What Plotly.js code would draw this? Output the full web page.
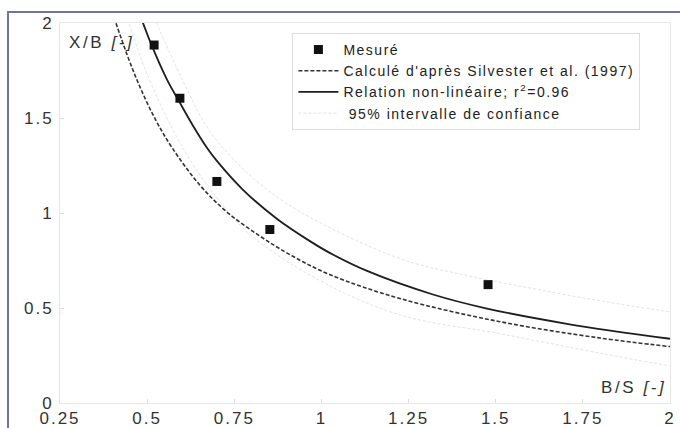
<!DOCTYPE html>
<html>
<head>
<meta charset="utf-8">
<script src="https://cdn.plot.ly/plotly-3.0.1.min.js"></script>
<style>
  html, body { margin: 0; padding: 0; background: #fff; overflow: hidden; }
  #chart { width: 680px; height: 428px; position: absolute; left: 0; top: 0; }
  #frame { position: absolute; left: 7px; top: 11px; width: 700px; height: 440px;
           border: 2px solid #6f75a8; pointer-events: none; z-index: 10; }
  .xtick text, .ytick text { letter-spacing: 2px; }
  .legendtext { letter-spacing: 1.5px; }
  .annotation-text { letter-spacing: 2.6px; }
</style>
</head>
<body>
<div id="chart"></div>
<div id="frame"></div>
<script>
// Mesuré
const bsMesure = [0.520, 0.594, 0.700, 0.852, 1.478];
const xbMesure = [1.884, 1.604, 1.166, 0.913, 0.623];

// Calculé d'après Silvester et al. (1997)
const bsSilvester = [0.405, 0.442, 0.479, 0.523, 0.571, 0.652, 0.729, 0.824, 0.918, 1.025, 1.225, 1.512, 1.799, 2.0];
const xbSilvester = [2.03, 1.835, 1.665, 1.495, 1.345, 1.145, 1.005, 0.878, 0.772, 0.675, 0.550, 0.428, 0.342, 0.297];

// Relation non-linéaire
const bsRelation = [0.480, 0.514, 0.557, 0.594, 0.632, 0.672, 0.700, 0.775, 0.872, 0.967, 1.025, 1.131, 1.320, 1.475, 1.704, 2.0];
const xbRelation = [2.04, 1.878, 1.702, 1.580, 1.458, 1.342, 1.274, 1.122, 0.970, 0.852, 0.789, 0.695, 0.571, 0.497, 0.417, 0.338];

// 95% intervalle de confiance
const bsCiHaut = [0.515, 0.603, 0.680, 0.800, 0.938, 1.225, 1.420, 1.613, 1.808, 2.0];
const xbCiHaut = [2.05, 1.694, 1.43, 1.19, 1.008, 0.76, 0.67, 0.60, 0.535, 0.48];
const bsCiBas = [0.445, 0.500, 0.600, 0.700, 0.800, 1.000, 1.225, 1.515, 1.808, 2.0];
const xbCiBas = [2.02, 1.73, 1.35, 1.08, 0.88, 0.64, 0.464, 0.364, 0.259, 0.195];

// Axis ticks
const xTicks = [0.25, 0.5, 0.75, 1, 1.25, 1.5, 1.75, 2];
const xTickLabels = ['0.25', '0.5', '0.75', '1', '1.25', '1.5', '1.75', '2'];
const yTicks = [0, 0.5, 1, 1.5, 2];
const yTickLabels = ['0', '0.5', '1', '1.5', '2'];

const legendNames = [
  'Mesuré',
  "Calculé d'après Silvester et al. (1997)",
  'Relation non-linéaire; r<sup>2</sup>=0.96',
  '\u00a095% intervalle de confiance'
];

const FONT = 'Liberation Sans, Arial, sans-serif';

const traces = [
  { x: bsCiHaut, y: xbCiHaut, mode: 'lines', name: legendNames[3], legendrank: 4,
    line: { color: '#e2e2e2', width: 1, dash: '3px,2px', shape: 'spline' }, showlegend: true, legendgroup: 'ci' },
  { x: bsCiBas, y: xbCiBas, mode: 'lines', name: legendNames[3], legendrank: 5,
    line: { color: '#e2e2e2', width: 1, dash: '3px,2px', shape: 'spline' }, showlegend: false, legendgroup: 'ci' },
  { x: bsSilvester, y: xbSilvester, mode: 'lines', name: legendNames[1], legendrank: 2,
    line: { color: '#333333', width: 1.6, dash: '4px,2px', shape: 'spline' } },
  { x: bsRelation, y: xbRelation, mode: 'lines', name: legendNames[2], legendrank: 3,
    line: { color: '#1e1e1e', width: 1.8, shape: 'spline' } },
  { x: bsMesure, y: xbMesure, mode: 'markers', name: legendNames[0], legendrank: 1,
    marker: { symbol: 'square', size: 9, color: '#111111' } }
];

const layout = {
  width: 680, height: 428,
  margin: { l: 60, r: 10, t: 23, b: 25, pad: 0 },
  paper_bgcolor: '#ffffff', plot_bgcolor: '#ffffff',
  font: { family: FONT, color: '#333333' },
  showlegend: true,
  legend: {
    x: 0.381, y: 0.974, xanchor: 'left', yanchor: 'top',
    bgcolor: '#ffffff', bordercolor: '#dcdcdc', borderwidth: 1,
    font: { family: FONT, size: 14, color: '#222222' },
    itemwidth: 40, tracegroupgap: 0, traceorder: 'normal'
  },
  xaxis: {
    range: [0.25, 2], tickmode: 'array', tickvals: xTicks, ticktext: xTickLabels,
    showgrid: false, zeroline: false, showline: true, mirror: true, linecolor: '#e6e6e6', linewidth: 1,
    ticks: 'inside', ticklen: 4, tickcolor: '#dddddd',
    tickfont: { family: FONT, size: 17, color: '#333333' }, ticklabelstandoff: 0
  },
  yaxis: {
    range: [0, 2], tickmode: 'array', tickvals: yTicks, ticktext: yTickLabels,
    showgrid: false, zeroline: false, showline: true, mirror: true, linecolor: '#e6e6e6', linewidth: 1,
    ticks: 'inside', ticklen: 4, tickcolor: '#dddddd',
    tickfont: { family: FONT, size: 17, color: '#333333' }, ticklabelstandoff: 2
  },
  annotations: [
    { xref: 'paper', yref: 'paper', x: 0.0115, y: 0.95, xanchor: 'left', yanchor: 'middle',
      text: 'X/B <i>[-]</i>', showarrow: false, font: { family: FONT, size: 17, color: '#333333' } },
    { xref: 'paper', yref: 'paper', x: 0.997, y: 0.042, xanchor: 'right', yanchor: 'middle',
      text: 'B/S <i>[-]</i>', showarrow: false, font: { family: FONT, size: 17, color: '#333333' } }
  ]
};

Plotly.newPlot('chart', traces, layout, { displayModeBar: false, staticPlot: true });
</script>
</body>
</html>
